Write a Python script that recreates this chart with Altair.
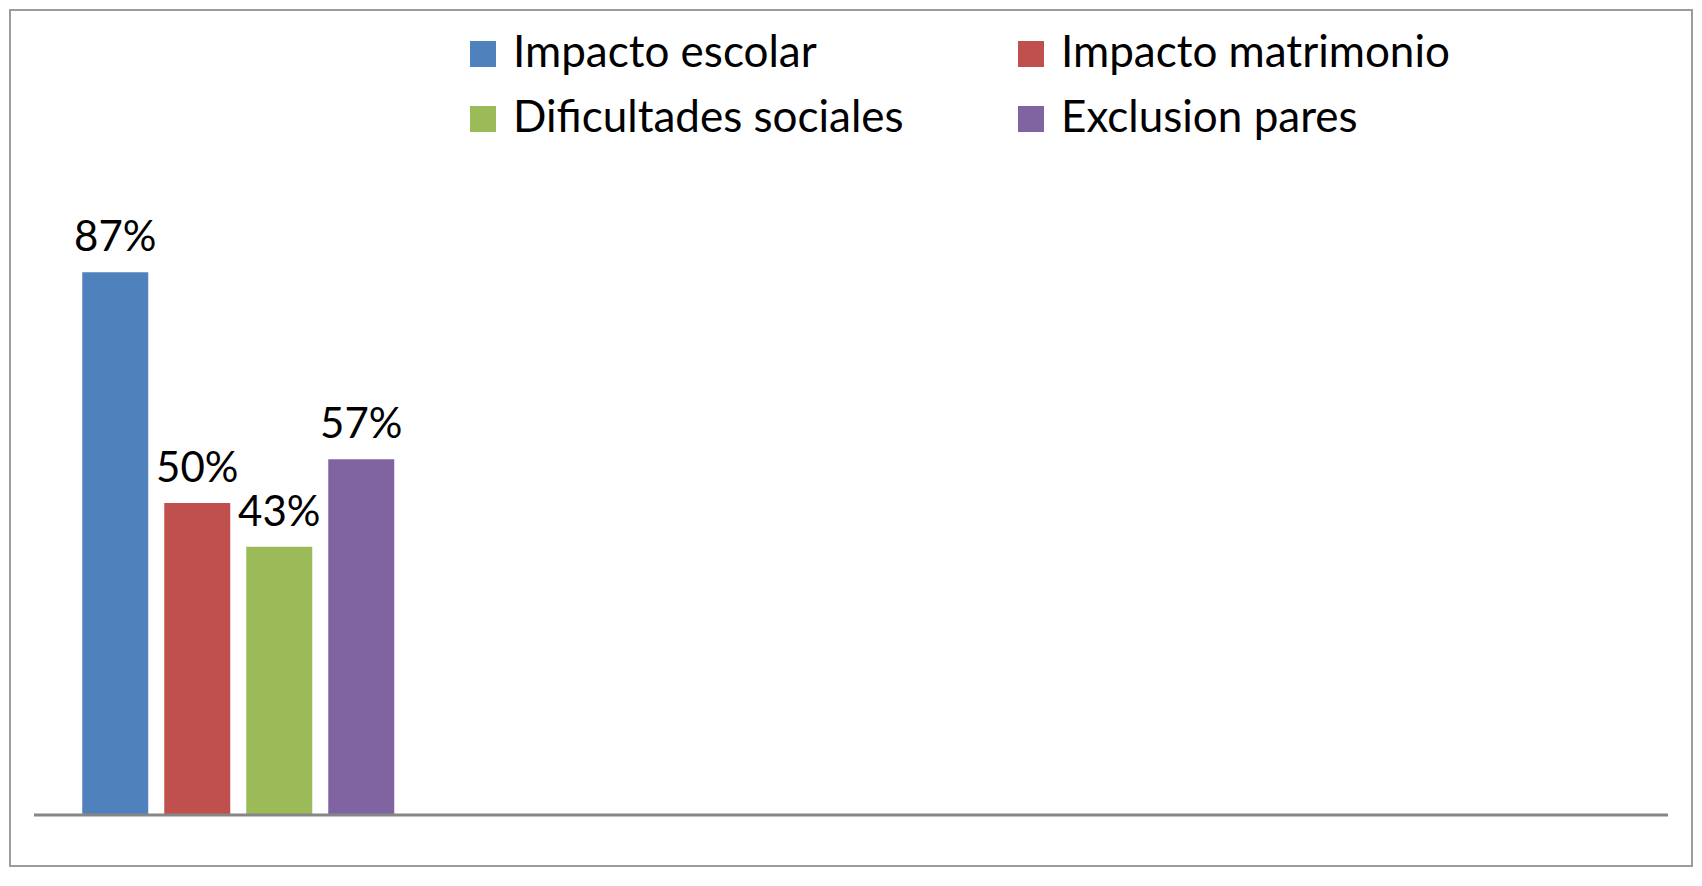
import altair as alt
import pandas as pd

# ---- data ----
series = ["Impacto escolar", "Impacto matrimonio", "Dificultades sociales", "Exclusion pares"]
values = [0.87, 0.50, 0.43, 0.57]
colors = ["#4F81BD", "#C0504D", "#9BBB59", "#8064A2"]
slots = ["g1", "g2", "g3", "g4"]  # category slots on the x axis (only the first holds data)

df = pd.DataFrame({"slot": [slots[0]] * len(series), "series": series, "value": values})
base_df = pd.DataFrame({"start": [slots[0]], "end": [slots[-1]], "zero": [0.0]})

FONT = "Lato"

xscale = alt.Scale(domain=slots, paddingInner=0, paddingOuter=0.05875)
xoff_scale = alt.Scale(domain=series, paddingInner=0.1951, paddingOuter=0.5884)
yscale = alt.Scale(domain=[-0.0817, 1.2901], nice=False, zero=False)

bars = alt.Chart(df).mark_bar().encode(
    x=alt.X("slot:N", scale=xscale, axis=None),
    xOffset=alt.XOffset("series:N", scale=xoff_scale),
    y=alt.Y("value:Q", scale=yscale, axis=None, stack=None),
    y2=alt.datum(0),
    color=alt.Color(
        "series:N",
        scale=alt.Scale(domain=series, range=colors),
        legend=alt.Legend(
            title=None,
            orient="none",
            direction="horizontal",
            legendX=451,
            legendY=22,
            columns=2,
            symbolType="square",
            symbolSize=676,
            symbolStrokeWidth=0,
            symbolOpacity=1,
            labelFont=FONT,
            labelFontSize=44,
            labelColor="black",
            labelLimit=800,
            labelOffset=8,
            columnPadding=105,
            rowPadding=21,
            padding=0,
        ),
    ),
)

rule = alt.Chart(base_df).mark_rule(color="#868686", strokeWidth=3).encode(
    x=alt.X("start:N", scale=xscale, axis=None, bandPosition=0),
    x2=alt.X2("end:N", bandPosition=1),
    y=alt.Y("zero:Q", scale=yscale, axis=None),
)

labels = alt.Chart(df).mark_text(
    font=FONT, fontSize=42, baseline="alphabetic", dy=-21, color="black"
).encode(
    x=alt.X("slot:N", scale=xscale, axis=None),
    xOffset=alt.XOffset("series:N", scale=xoff_scale),
    y=alt.Y("value:Q", scale=yscale, axis=None, stack=None),
    text=alt.Text("value:Q", format=".0%"),
)

chart = alt.layer(bars, rule, labels).properties(
    width=1682,
    height=856,
    padding={"left": 2, "top": 2, "right": 2, "bottom": 2},
    autosize=alt.AutoSizeParams(type="none"),
    background="white",
).configure_view(stroke="#9c9c9c", strokeWidth=2)

chart.save("out.html", embed_options={"renderer": "svg", "actions": False})
